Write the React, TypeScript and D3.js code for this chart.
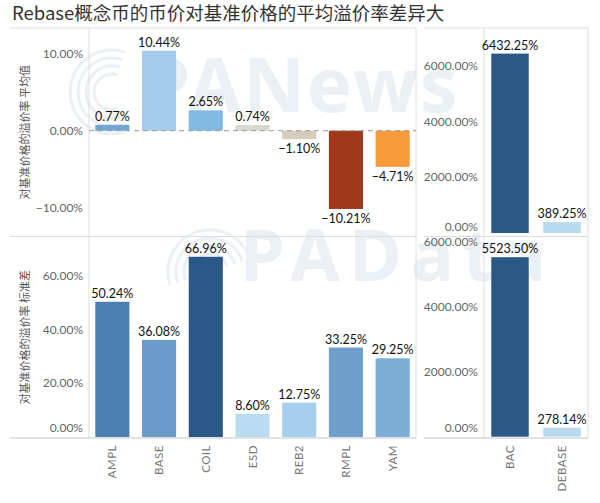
import React from "react";
import * as d3 from "d3";

// chart values
const coins = ["AMPL", "BASE", "COIL", "ESD", "REB2", "RMPL", "YAM"];
const meanPremium = [0.77, 10.44, 2.65, 0.74, -1.1, -10.21, -4.71];
const stdPremium = [50.24, 36.08, 66.96, 8.6, 12.75, 33.25, 29.25];
const outlierCoins = ["BAC", "DEBASE"];
const outlierMean = [6432.25, 389.25];
const outlierStd = [5523.5, 278.14];

const meanTicks = [-10, 0, 10];
const stdTicks = [0, 20, 40, 60];
const outlierTicks = [0, 2000, 4000, 6000];

const meanColors = ["#72a5d2", "#a3cdea", "#80b9e2", "#d8d7d0", "#d5cebd", "#a13a1d", "#f79a3b"];
const stdColors = ["#4c7fb1", "#6b9cc9", "#2b5886", "#b9dcf1", "#a6cfed", "#6e9fcb", "#7badd6"];
const outlierColors = ["#2a5985", "#b8daf0"];

const title = "Rebase概念币的币价对基准价格的平均溢价率差异大";
const meanTitle = "对基准价格的溢价率 平均值";
const stdTitle = "对基准价格的溢价率 标准差";

const W = 600;
const H = 503;
const numFont = "Lato, 'Noto Sans', sans-serif";
const fmt = (v: number) => d3.format(".2f")(v) + "%";

// layout
const top1 = 28;
const mid = 236.5;
const bottom = 438;
const leftAxis = 89;
const leftEnd = 416;
const rightStart = 424;
const rightAxis = 484;
const rightEnd = 588;

const xLeft = d3.scaleBand<string>().domain(coins).range([leftAxis, leftEnd]).paddingInner(0.27).paddingOuter(0.135);
const xRight = d3.scaleBand<string>().domain(outlierCoins).range([rightAxis, rightEnd]).paddingInner(0.28).paddingOuter(0.14);

const yMean = d3.scaleLinear().domain([-13.8, 13.4]).range([mid, top1]);
const yOutMean = d3.scaleLinear().domain([0, 7350]).range([233, top1]);
const yStd = d3.scaleLinear().domain([0, 74.5]).range([437, mid]);
const yOutStd = d3.scaleLinear().domain([0, 6160]).range([436.7, mid]);

type PanelProps = {
  cats: string[];
  values: number[];
  colors: string[];
  x: d3.ScaleBand<string>;
  y: d3.ScaleLinear<number, number>;
  ticks: number[];
  axisX: number;
  panelBottom: number;
};

const Panel: React.FC<PanelProps> = ({ cats, values, colors, x, y, ticks, axisX, panelBottom }) => (
  <g>
    {ticks.map((t) => (
      <text
        key={t}
        x={axisX - 6}
        y={Math.min(y(t), panelBottom - 10)}
        dy="0.35em"
        textAnchor="end"
        fontSize={12}
        fill="#666"
        fontFamily={numFont}
      >
        {fmt(t)}
      </text>
    ))}
    {cats.map((c, i) => {
      const v = values[i];
      const y0 = y(0);
      const yv = y(v);
      const bx = x(c) ?? 0;
      const cx = bx + x.bandwidth() / 2;
      return (
        <g key={c}>
          <rect x={bx} y={Math.min(y0, yv)} width={x.bandwidth()} height={Math.abs(y0 - yv)} fill={colors[i]} />
          <text
            x={cx}
            y={v >= 0 ? yv - 4 : yv + 14}
            textAnchor="middle"
            fontSize={12.5}
            fill="#111"
            fontFamily={numFont}
          >
            {fmt(v)}
          </text>
        </g>
      );
    })}
  </g>
);

const Watermarks: React.FC = () => (
  <g fill="#ebf0f5" fontFamily="'Noto Sans', sans-serif" fontWeight="bold">
    <g fill="none" stroke="#ebf0f5" strokeWidth={3}>
      {[18, 26, 34, 42].map((r) => (
        <path key={"a" + r} d={d3.arc()({ innerRadius: r, outerRadius: r, startAngle: Math.PI * 0.9, endAngle: Math.PI * 2.1 }) ?? ""} transform="translate(112,92)" />
      ))}
      {[18, 26, 34, 42].map((r) => (
        <path key={"b" + r} d={d3.arc()({ innerRadius: r, outerRadius: r, startAngle: Math.PI * 1.4, endAngle: Math.PI * 2.4 }) ?? ""} transform="translate(210,272)" />
      ))}
    </g>
    <text x={143} y={112} fontSize={76} letterSpacing={2}>PANews</text>
    <text x={240} y={281} fontSize={72} letterSpacing={9}>PAData</text>
  </g>
);

export default function App() {
  return (
    <svg width={W} height={H} style={{ position: "absolute", left: 0, top: 0, background: "#fff" }}>
      <rect width={W} height={H} fill="#fff" />
      <text x={12} y={20} fontSize={18.5} fill="#333" fontFamily="'Noto Sans CJK SC', sans-serif">
        {title}
      </text>

      <Watermarks />

      {/* panel frames */}
      <g stroke="#dedede" strokeWidth={1}>
        <line x1={10} x2={leftEnd} y1={top1} y2={top1} />
        <line x1={rightStart} x2={rightEnd} y1={top1} y2={top1} />
        <line x1={10} x2={leftEnd} y1={mid} y2={mid} />
        <line x1={rightStart} x2={rightEnd} y1={mid} y2={mid} />
        <line x1={leftAxis} x2={leftAxis} y1={top1} y2={bottom} />
        <line x1={leftEnd} x2={leftEnd} y1={top1} y2={bottom} />
        <line x1={rightAxis} x2={rightAxis} y1={top1} y2={bottom} />
        <line x1={rightEnd} x2={rightEnd} y1={top1} y2={bottom} />
      </g>
      <g stroke="#c4c4c4" strokeWidth={1}>
        <line x1={10} x2={leftEnd} y1={bottom} y2={bottom} />
        <line x1={rightStart} x2={rightEnd} y1={bottom} y2={bottom} />
      </g>

      <Panel cats={coins} values={meanPremium} colors={meanColors} x={xLeft} y={yMean} ticks={meanTicks} axisX={leftAxis} panelBottom={mid} />
      <line x1={leftAxis} x2={leftEnd} y1={yMean(0)} y2={yMean(0)} stroke="#999" strokeDasharray="5,4" />
      <Panel cats={outlierCoins} values={outlierMean} colors={outlierColors} x={xRight} y={yOutMean} ticks={outlierTicks} axisX={rightAxis} panelBottom={mid} />
      <Panel cats={coins} values={stdPremium} colors={stdColors} x={xLeft} y={yStd} ticks={stdTicks} axisX={leftAxis} panelBottom={bottom} />
      <Panel cats={outlierCoins} values={outlierStd} colors={outlierColors} x={xRight} y={yOutStd} ticks={outlierTicks} axisX={rightAxis} panelBottom={bottom} />

      {/* y axis titles */}
      <text transform={`translate(29,${(top1 + mid) / 2}) rotate(-90)`} textAnchor="middle" fontSize={11} fill="#555" fontFamily="'Noto Sans CJK SC', sans-serif">
        {meanTitle}
      </text>
      <text transform={`translate(29,${(mid + bottom) / 2}) rotate(-90)`} textAnchor="middle" fontSize={11} fill="#555" fontFamily="'Noto Sans CJK SC', sans-serif">
        {stdTitle}
      </text>

      {/* category labels */}
      {coins.map((c) => (
        <text key={c} transform={`translate(${(xLeft(c) ?? 0) + xLeft.bandwidth() / 2},445) rotate(-90)`} dy="0.35em" textAnchor="end" fontSize={11.5} fill="#777" fontFamily={numFont} letterSpacing={0.5}>
          {c}
        </text>
      ))}
      {outlierCoins.map((c) => (
        <text key={c} transform={`translate(${(xRight(c) ?? 0) + xRight.bandwidth() / 2},445) rotate(-90)`} dy="0.35em" textAnchor="end" fontSize={11.5} fill="#777" fontFamily={numFont} letterSpacing={0.5}>
          {c}
        </text>
      ))}
    </svg>
  );
}
